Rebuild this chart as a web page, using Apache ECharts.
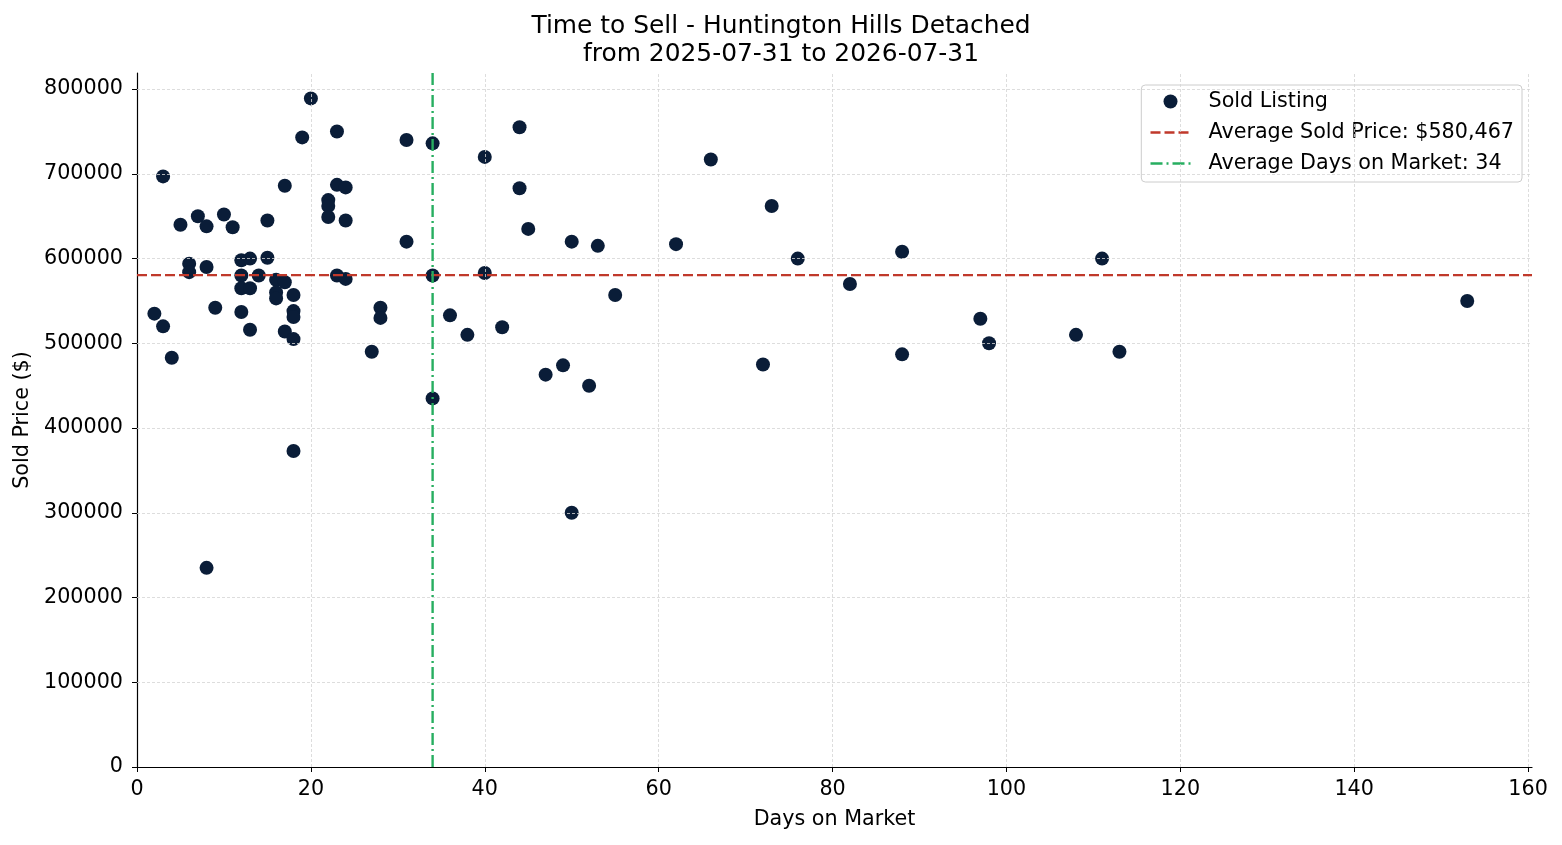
<!DOCTYPE html>
<html><head><meta charset="utf-8">
<script src="https://cdn.jsdelivr.net/npm/echarts@6/dist/echarts.min.js"></script>
<style>html,body{margin:0;padding:0;background:#fff}#c{width:1562px;height:845px}</style>
</head><body><div id="c"></div>
<script>
const titleLines = ["Time to Sell - Huntington Hills Detached", "from 2025-07-31 to 2026-07-31"];
const daysOnMarket = [2,3,3,4,5,6,6,7,8,8,8,9,10,11,12,12,12,12,13,13,13,14,15,15,16,16,16,17,17,17,18,18,18,18,18,19,20,22,22,22,23,23,23,24,24,24,27,28,28,31,31,34,34,34,36,38,40,40,42,44,44,45,47,49,50,50,52,53,55,62,66,72,73,76,82,88,88,97,98,108,111,113,153];
const soldPrices = [535000,520000,697000,483000,640000,594000,584000,650000,638000,590000,235000,542000,652000,637000,598000,580000,565000,537000,600000,565000,516000,580000,645000,601000,575000,560000,553000,686000,572000,514000,557000,538000,531000,505000,373000,743000,789000,669000,662000,649000,750000,687000,580000,684000,645000,576000,490000,542000,530000,740000,620000,736000,580000,435000,533000,510000,720000,583000,519000,755000,683000,635000,463000,474000,620000,300000,450000,615000,557000,617000,717000,475000,662000,600000,570000,608000,487000,529000,500000,510000,600000,490000,550000];
const avgPrice = 580467;
const avgDays = 34;
const legendNames = ["Sold Listing", "Average Sold Price: $580,467", "Average Days on Market: 34"];
const xTicks = [0,20,40,60,80,100,120,140,160];
const yTicks = [0,100000,200000,300000,400000,500000,600000,700000,800000];
const xMax = 160.45, yMax = 819000;

const pts = daysOnMarket.map((d,i)=>[d, soldPrices[i]]);
const chart = echarts.init(document.getElementById('c'), null, {renderer:'canvas'});
const font = 'DejaVu Sans';
const fs = 20.7;
const gridStyle = {color:'#d4d4d4', width:0.8, type:[3,2]};
const redStyle = {color:'#c0392b', width:2.4, type:[10,4]};
const greenStyle = {color:'#27ae60', width:2.4, type:[12,4,2,4]};
chart.setOption({
  animation:false,
  textStyle:{fontFamily:font},
  title:{text:titleLines.join('\n'), left:'center', top:8,
    textStyle:{fontFamily:font, fontSize:24.9, fontWeight:'normal', color:'#000', lineHeight:28}},
  grid:{left:137, right:30, top:73, bottom:78, containLabel:false, outerBoundsMode:'none'},
  legend:{
    orient:'vertical', right:40, top:85, padding:[6,8,8,8],
    borderColor:'#cccccc', borderWidth:1, borderRadius:4, backgroundColor:'#fff',
    itemWidth:40, itemHeight:14, itemGap:10,
    textStyle:{fontFamily:font, fontSize:fs, color:'#000', lineHeight:20.5, padding:[0,0,0,13]},
    data:[
      {name:legendNames[0], icon:'circle', itemStyle:{color:'#0a1d38'}},
      {name:legendNames[1], itemStyle:{opacity:0}, lineStyle:redStyle},
      {name:legendNames[2], itemStyle:{opacity:0}, lineStyle:greenStyle}
    ]
  },
  xAxis:{type:'value', min:0, max:xMax,
    name:'Days on Market', nameLocation:'middle', nameGap:42,
    nameTextStyle:{fontFamily:font, fontSize:fs, color:'#000'},
    axisLine:{show:true, onZero:false, lineStyle:{color:'#000', width:1.2}},
    axisTick:{show:true, length:5, lineStyle:{color:'#000'}, customValues:xTicks},
    axisLabel:{fontFamily:font, fontSize:fs, color:'#000', margin:12, customValues:xTicks, formatter:v=>String(v)},
    splitLine:{show:false}},
  yAxis:{type:'value', min:0, max:yMax,
    name:'Sold Price ($)', nameLocation:'middle', nameGap:104, nameRotate:90,
    nameTextStyle:{fontFamily:font, fontSize:fs, color:'#000'},
    axisLine:{show:true, onZero:false, lineStyle:{color:'#000', width:1.2}},
    axisTick:{show:true, length:5, lineStyle:{color:'#000'}, customValues:yTicks},
    axisLabel:{fontFamily:font, fontSize:fs, color:'#000', margin:14, customValues:yTicks, formatter:v=>String(v)},
    splitLine:{show:false}},
  series:[
    {type:'scatter', name:legendNames[0], data:pts, symbolSize:14, z:2,
      itemStyle:{color:'#0a1d38', opacity:1}},
    {type:'line', name:'grid', silent:true, data:[], symbol:'none', z:3,
      markLine:{silent:true, symbol:'none', label:{show:false}, lineStyle:gridStyle, animation:false,
        data: xTicks.filter(v=>v>0).map(v=>({xAxis:v})).concat(yTicks.filter(v=>v>0).map(v=>({yAxis:v})))}},
    {type:'line', name:legendNames[1], data:[[0,avgPrice],[xMax,avgPrice]],
      symbol:'none', showSymbol:false, z:5, color:'#c0392b', lineStyle:redStyle},
    {type:'line', name:legendNames[2], data:[[avgDays,0],[avgDays,yMax]],
      symbol:'none', showSymbol:false, z:5, color:'#27ae60', lineStyle:greenStyle}
  ]
});
</script></body></html>
